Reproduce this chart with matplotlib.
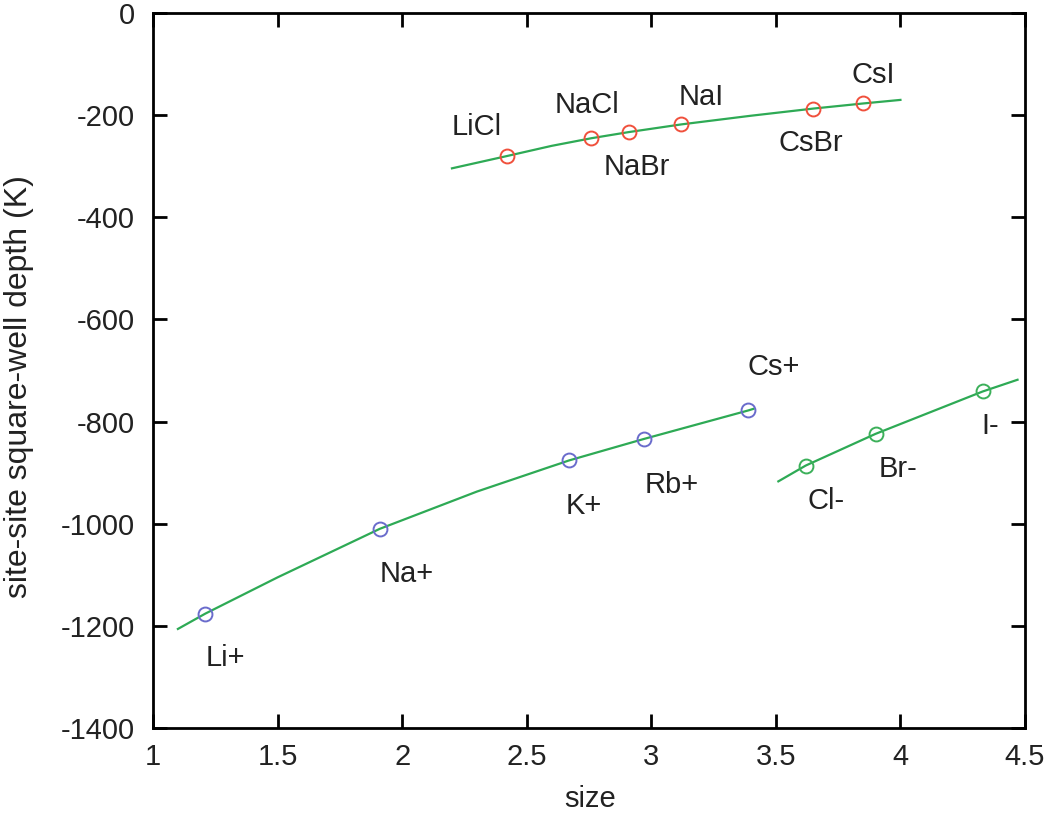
import matplotlib
matplotlib.use("Agg")
import matplotlib.pyplot as plt

plt.rcParams["font.family"] = ["Liberation Sans", "DejaVu Sans"]
plt.rcParams["axes.unicode_minus"] = False

# salt data (red)
salt_names = ["LiCl", "NaCl", "NaBr", "NaI", "CsBr", "CsI"]
salt_size = [2.42, 2.76, 2.91, 3.12, 3.65, 3.85]
salt_depth = [-280, -245, -233, -218, -187, -176]
salt_label_x = [2.30, 2.74, 2.94, 3.20, 3.64, 3.89]
salt_label_y = [-224, -180, -301, -164, -255, -122]
salt_fit_x = [2.20, 2.42, 2.60, 2.76, 2.91, 3.12, 3.40, 3.65, 3.85, 4.00]
salt_fit_y = [-304, -280, -260, -245, -233, -218, -201, -187, -177, -170]

# cations (blue)
cat_names = ["Li+", "Na+", "K+", "Rb+", "Cs+"]
cat_size = [1.21, 1.91, 2.67, 2.97, 3.39]
cat_depth = [-1176, -1010, -876, -834, -778]
cat_label_x = [1.29, 2.02, 2.73, 3.08, 3.49]
cat_label_y = [-1262, -1099, -965, -925, -693]
cat_fit_x = [1.10, 1.21, 1.50, 1.91, 2.30, 2.67, 2.97, 3.39, 3.41]
cat_fit_y = [-1206, -1176, -1105, -1010, -937, -876, -834, -778, -775]

# anions (green)
an_names = ["Cl-", "Br-", "I-"]
an_size = [3.62, 3.90, 4.33]
an_depth = [-886, -824, -741]
an_label_x = [3.70, 3.99, 4.36]
an_label_y = [-955, -893, -808]
an_fit_x = [3.51, 3.62, 3.90, 4.33, 4.47]
an_fit_y = [-917, -886, -824, -741, -718]

line_color = "#2eaa55"
txt_color = "#222222"

fig = plt.figure(figsize=(10.5, 8.18), dpi=100)
ax = fig.add_axes([0.1457, 0.110, 0.8305, 0.874])

for fx, fy in [(salt_fit_x, salt_fit_y), (cat_fit_x, cat_fit_y), (an_fit_x, an_fit_y)]:
    ax.plot(fx, fy, color=line_color, lw=1.6, zorder=2)

ax.plot(salt_size, salt_depth, "o", ms=10, mfc="none", mec="#f0503c", mew=1.4, zorder=3)
ax.plot(cat_size, cat_depth, "o", ms=10, mfc="none", mec="#6a6ccc", mew=1.4, zorder=3)
ax.plot(an_size, an_depth, "o", ms=10, mfc="none", mec="#3cb05a", mew=1.4, zorder=3)

for names, lx, ly in [(salt_names, salt_label_x, salt_label_y),
                      (cat_names, cat_label_x, cat_label_y),
                      (an_names, an_label_x, an_label_y)]:
    for name, x, y in zip(names, lx, ly):
        ax.text(x, y, name, ha="center", va="center", fontsize=21, color=txt_color)

ax.set_xlim(1, 4.5)
ax.set_ylim(-1400, 0)
ax.set_xticks([1, 1.5, 2, 2.5, 3, 3.5, 4, 4.5])
ax.set_xticklabels(["1", "1.5", "2", "2.5", "3", "3.5", "4", "4.5"])
ax.set_yticks(range(-1400, 1, 200))
ax.tick_params(direction="in", length=10, width=2, top=True, right=True,
               labelsize=21, labelcolor=txt_color)
ax.tick_params(axis="x", pad=11)
ax.tick_params(axis="y", pad=13)
for s in ax.spines.values():
    s.set_linewidth(2)

ax.set_xlabel("size", fontsize=21, color=txt_color)
ax.set_ylabel("site-site square-well depth (K)", fontsize=23, color=txt_color)
ax.xaxis.set_label_coords(0.501, -0.080)
ax.yaxis.set_label_coords(-0.137, 0.478)

fig.savefig("out.png", dpi=100)
